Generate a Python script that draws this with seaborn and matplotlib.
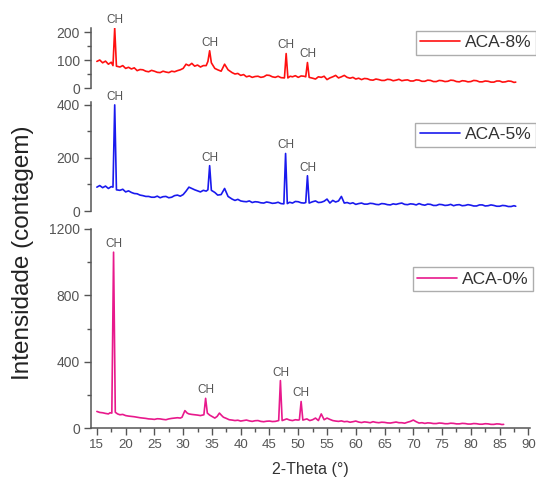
import numpy as np
import pandas as pd
import matplotlib
matplotlib.use("Agg")
import matplotlib.pyplot as plt
from matplotlib.ticker import MultipleLocator
import seaborn as sns

sns.set_style("ticks")
plt.rcParams['font.family'] = ['Liberation Sans', 'DejaVu Sans']

# ---- data ----
x_aca8 = [15, 15.5, 16, 16.5, 17, 17.5, 17.8, 18.1, 18.4, 19, 19.5, 20, 20.5, 21, 21.5, 22, 22.5,
          23, 23.5, 24, 24.5, 25, 25.5, 26, 26.5, 27, 27.5, 28, 28.5, 29, 29.5, 30, 30.5, 31, 31.5,
          32, 32.5, 33, 33.5, 34, 34.3, 34.6, 34.9, 35.5, 36, 36.6, 37.2, 37.8, 38.5, 39, 39.5, 40,
          40.5, 41, 41.5, 42, 42.5, 43, 43.5, 44, 44.5, 45, 45.5, 46, 46.5, 47, 47.6, 47.9, 48.2,
          48.6, 49, 49.5, 50, 50.5, 51, 51.3, 51.6, 51.9, 52.5, 53, 53.5, 54, 54.5, 55, 55.5, 56,
          56.5, 57, 57.5, 58, 58.5, 59, 59.5, 60, 60.5, 61, 61.5, 62, 62.5, 63, 63.5, 64, 64.5, 65,
          65.5, 66, 66.5, 67, 67.5, 68, 68.5, 69, 69.5, 70, 70.5, 71, 71.5, 72, 72.5, 73, 73.5, 74,
          74.5, 75, 75.5, 76, 76.5, 77, 77.5, 78, 78.5, 79, 79.5, 80, 80.5, 81, 81.5, 82, 82.5, 83,
          83.5, 84, 84.5, 85, 85.5, 86, 86.5, 87, 87.5, 87.8]
y_aca8 = [95, 100, 90, 96, 85, 92, 80, 214, 78, 75, 80, 70, 74, 68, 72, 62, 66,
          65, 60, 58, 63, 60, 56, 55, 60, 57, 55, 60, 58, 62, 65, 70, 85, 80, 88,
          78, 82, 75, 80, 80, 95, 133, 90, 70, 65, 60, 85, 65, 55, 50, 52, 45,
          48, 40, 43, 38, 41, 42, 38, 40, 46, 45, 40, 38, 42, 37, 36, 123, 36,
          42, 40, 44, 38, 43, 42, 40, 91, 38, 35, 32, 40, 38, 42, 30, 36, 40,
          45, 36, 40, 45, 38, 35, 38, 32, 35, 30, 34, 33, 29, 28, 32, 30, 27, 27,
          31, 30, 26, 28, 31, 26, 28, 29, 25, 25, 29, 28, 24, 24, 28, 27, 23, 23,
          27, 26, 23, 24, 28, 27, 23, 22, 26, 25, 22, 23, 27, 26, 22, 22, 25, 24,
          21, 21, 25, 25, 21, 22, 25, 24, 20, 21]

x_aca5 = [15, 15.5, 16, 16.5, 17, 17.5, 17.8, 18.1, 18.4, 19, 19.5, 20, 20.5, 21, 21.5, 22, 22.5,
          23, 23.5, 24, 24.5, 25, 25.5, 26, 26.5, 27, 27.5, 28, 28.5, 29, 29.5, 30, 30.5, 31, 31.5,
          32, 32.5, 33, 33.5, 34, 34.3, 34.6, 34.9, 35.5, 36, 36.6, 37.2, 37.8, 38.5, 39, 39.5, 40,
          40.5, 41, 41.5, 42, 42.5, 43, 43.5, 44, 44.5, 45, 45.5, 46, 46.5, 47, 47.5, 47.8, 48.1,
          48.5, 49, 49.5, 50, 50.5, 51, 51.3, 51.6, 51.9, 52.5, 53, 53.5, 54, 54.5, 55, 55.5, 56,
          56.5, 57, 57.5, 58, 58.5, 59, 59.5, 60, 60.5, 61, 61.5, 62, 62.5, 63, 63.5, 64, 64.5, 65,
          65.5, 66, 66.5, 67, 67.5, 68, 68.5, 69, 69.5, 70, 70.5, 71, 71.5, 72, 72.5, 73, 73.5, 74,
          74.5, 75, 75.5, 76, 76.5, 77, 77.5, 78, 78.5, 79, 79.5, 80, 80.5, 81, 81.5, 82, 82.5, 83,
          83.5, 84, 84.5, 85, 85.5, 86, 86.5, 87, 87.5, 87.8]
y_aca5 = [90, 96, 88, 94, 85, 92, 90, 400, 80, 78, 82, 72, 76, 70, 66, 65, 60,
          58, 55, 55, 52, 52, 56, 50, 54, 55, 50, 52, 58, 60, 56, 62, 75, 90, 85,
          80, 76, 72, 78, 75, 80, 171, 78, 70, 60, 62, 85, 55, 45, 40, 44, 38,
          36, 35, 38, 32, 35, 34, 31, 30, 34, 32, 29, 30, 33, 28, 27, 217, 28,
          33, 30, 36, 35, 31, 30, 32, 133, 30, 35, 38, 32, 33, 37, 45, 30, 40,
          34, 38, 55, 30, 32, 28, 31, 25, 28, 30, 26, 26, 29, 28, 25, 24, 28, 27,
          24, 23, 27, 25, 28, 30, 25, 24, 27, 26, 23, 28, 24, 22, 26, 25, 21, 21,
          25, 24, 21, 22, 25, 20, 23, 24, 20, 21, 24, 22, 19, 19, 23, 23, 19, 20,
          23, 21, 18, 18, 21, 20, 17, 17, 20, 18]

x_aca0 = [15, 15.5, 16, 16.5, 17, 17.3, 17.6, 17.9, 18.2, 18.6, 19, 19.5, 20, 20.5, 21, 21.5, 22,
          22.5, 23, 23.5, 24, 24.5, 25, 25.5, 26, 26.5, 27, 27.5, 28, 28.5, 29, 29.5, 29.8, 30.3,
          30.7, 31, 31.5, 32, 32.5, 33, 33.6, 33.9, 34.2, 34.6, 35, 35.5, 35.9, 36.3, 36.7, 37,
          37.5, 38, 38.5, 39, 39.5, 40, 40.5, 41, 41.5, 42, 42.5, 43, 43.5, 44, 44.5, 45, 45.5, 46,
          46.6, 46.9, 47.2, 47.6, 48, 48.5, 49, 49.5, 50, 50.2, 50.5, 50.8, 51.2, 51.5, 52, 52.5,
          53, 53.5, 54, 54.5, 55, 55.5, 56, 56.5, 57, 57.5, 58, 58.5, 59, 59.5, 60, 60.5, 61, 61.5,
          62, 62.5, 63, 63.5, 64, 64.5, 65, 65.5, 66, 66.5, 67, 67.5, 68, 68.5, 69, 69.5, 70, 70.5,
          71, 71.5, 72, 72.5, 73, 73.5, 74, 74.5, 75, 75.5, 76, 76.5, 77, 77.5, 78, 78.5, 79, 79.5,
          80, 80.5, 81, 81.5, 82, 82.5, 83, 83.5, 84, 84.5, 85, 85.4, 85.7]
y_aca0 = [100, 94, 92, 88, 85, 92, 90, 1060, 95, 85, 80, 82, 75, 72, 70, 68, 65,
          62, 60, 58, 55, 54, 52, 56, 55, 52, 50, 55, 58, 60, 62, 60, 65, 105,
          90, 85, 82, 80, 78, 75, 80, 179, 90, 78, 70, 60, 70, 90, 75, 65,
          58, 50, 48, 45, 47, 42, 45, 48, 43, 40, 44, 45, 40, 38, 41, 42, 39, 40,
          45, 286, 45, 50, 55, 48, 45, 50, 48, 50, 160, 48, 52, 55, 45, 50,
          60, 45, 85, 50, 60, 52, 45, 42, 40, 43, 38, 40, 35, 38, 42, 36, 33, 37,
          35, 32, 38, 34, 32, 35, 34, 31, 30, 33, 36, 32, 32, 29, 35, 40, 48, 38,
          30, 32, 28, 31, 30, 27, 27, 30, 29, 26, 26, 29, 28, 25, 25, 28, 27, 24,
          24, 27, 26, 23, 23, 26, 25, 22, 22, 25, 24, 21, 22]

peaks_aca8 = [18.1, 34.6, 47.9, 51.6]
peaks_aca5 = [18.1, 34.6, 47.8, 51.6]
peaks_aca0 = [17.9, 33.9, 46.9, 50.5]

x_ticks = [15, 20, 25, 30, 35, 40, 45, 50, 55, 60, 65, 70, 75, 80, 85, 90]

panels = [
    dict(label="ACA-8%", x=x_aca8, y=y_aca8, peaks=peaks_aca8, color="#ff1010",
         rect=[0.170, 0.8193, 0.819, 0.1236], ylim=(0, 215), major=100, minor=50,
         leg=(1.0, 0.937)),
    dict(label="ACA-5%", x=x_aca5, y=y_aca5, peaks=peaks_aca5, color="#1a1aee",
         rect=[0.170, 0.5667, 0.819, 0.2233], ylim=(0, 410), major=200, minor=100,
         leg=(1.0, 0.748)),
    dict(label="ACA-0%", x=x_aca0, y=y_aca0, peaks=peaks_aca0, color="#e8198c",
         rect=[0.170, 0.1211, 0.819, 0.4087], ylim=(0, 1200), major=400, minor=200,
         leg=(0.995, 0.451)),
]

spine_c = "#555555"
tick_c = "#555555"

fig = plt.figure(figsize=(5.36, 4.87), dpi=100)
for i, p in enumerate(panels):
    ax = fig.add_axes(p["rect"])
    df = pd.DataFrame({"x": p["x"], "y": p["y"]})
    sns.lineplot(data=df, x="x", y="y", ax=ax, color=p["color"], lw=1.2,
                 estimator=None, sort=False, label=p["label"])
    ax.set_xlim(14, 90.3)
    ax.set_ylim(*p["ylim"])
    ax.yaxis.set_major_locator(MultipleLocator(p["major"]))
    ax.yaxis.set_minor_locator(MultipleLocator(p["minor"]))
    ax.tick_params(axis="y", which="major", length=5, width=1, color=spine_c,
                   labelsize=10, labelcolor=tick_c, pad=3)
    ax.tick_params(axis="y", which="minor", length=3, width=1, color=spine_c)
    for s in ["top", "right"]:
        ax.spines[s].set_visible(False)
    ax.spines["left"].set_color(spine_c)
    ax.spines["left"].set_linewidth(1.1)
    ax.set_ylabel("")
    ax.set_xlabel("")
    ax.patch.set_alpha(0)
    if i < 2:
        ax.spines["bottom"].set_visible(False)
        ax.set_xticks([])
    else:
        ax.spines["bottom"].set_color(spine_c)
        ax.spines["bottom"].set_linewidth(1.1)
        ax.set_xticks(x_ticks)
        ax.xaxis.set_minor_locator(MultipleLocator(2.5))
        ax.tick_params(axis="x", which="major", length=5, width=1, color=spine_c,
                       labelsize=9.5, labelcolor=tick_c, pad=3)
        ax.tick_params(axis="x", which="minor", length=3, width=1, color=spine_c)
        ax.set_xlabel("2-Theta (°)", fontsize=11.5, color="#333333", labelpad=8)
    # CH annotations
    xs = np.array(p["x"]); ys = np.array(p["y"])
    for px in p["peaks"]:
        j = int(np.argmin(np.abs(xs - px)))
        ax.annotate("CH", xy=(xs[j], ys[j]), xytext=(0, 1.5), textcoords="offset points",
                    ha="center", va="bottom", fontsize=8.5, color="#555555",
                    annotation_clip=False)
    leg = ax.legend(loc="upper right", bbox_to_anchor=p["leg"], bbox_transform=fig.transFigure,
                    frameon=True, fancybox=False, fontsize=12.5, handlelength=2.3,
                    handletextpad=0.3, borderpad=0.25, borderaxespad=0)
    leg.get_frame().set_edgecolor("#999999")
    leg.get_frame().set_linewidth(1.0)
    for t in leg.get_texts():
        t.set_color("#333333")

fig.text(0.043, 0.482, "Intensidade (contagem)", rotation=90, ha="center", va="center",
         fontsize=17.5, color="#222222")

fig.savefig("out.png", dpi=100)
